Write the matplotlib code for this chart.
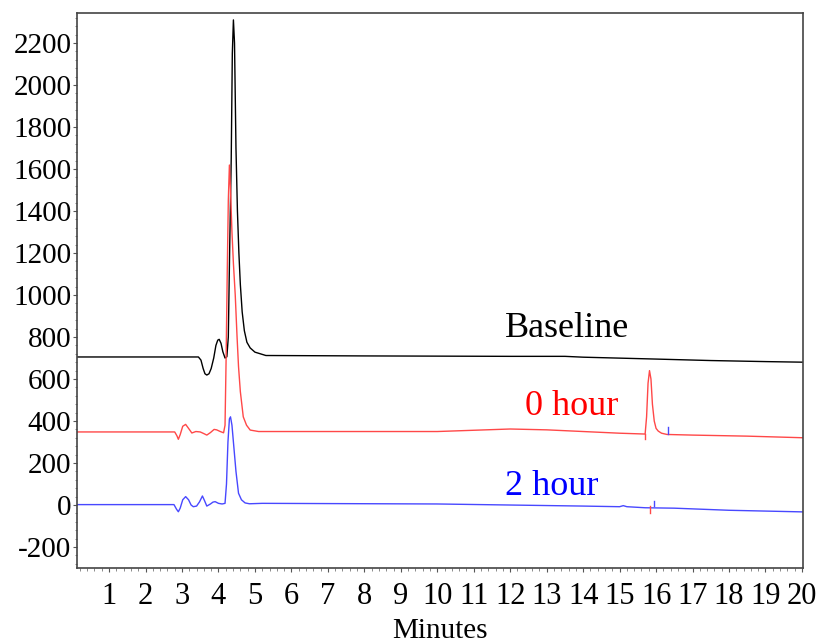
import matplotlib
matplotlib.use("Agg")
import matplotlib.pyplot as plt
from matplotlib.ticker import MultipleLocator

plt.rcParams["font.family"] = ["Liberation Serif", "DejaVu Serif"]
plt.rcParams["axes.unicode_minus"] = False

# Baseline trace (black)
baseline_t = [0.1, 3.45, 3.52, 3.58, 3.63, 3.68, 3.74, 3.80, 3.87, 3.93, 3.98,
              4.02, 4.07, 4.12, 4.18, 4.23, 4.27, 4.31, 4.35, 4.38, 4.41, 4.44,
              4.48, 4.52, 4.56, 4.60, 4.65, 4.71, 4.78, 4.87, 5.0, 5.3, 8.0,
              12.0, 13.5, 14.0, 16.0, 17.5, 19.0, 20.1]
baseline_v = [705, 705, 690, 650, 625, 619, 625, 650, 700, 760, 785,
              789, 770, 730, 700, 706, 800, 1250, 1650, 2150, 2310, 2200,
              1700, 1400, 1200, 1050, 920, 830, 775, 748, 728, 712, 710,
              708, 708, 704, 695, 688, 683, 680]

# 0 hour trace (red)
hour0_t = [0.1, 2.80, 2.86, 2.90, 2.95, 3.02, 3.10, 3.18, 3.27, 3.38, 3.50,
           3.60, 3.68, 3.78, 3.88, 3.95, 4.05, 4.14, 4.18, 4.21, 4.24, 4.27,
           4.30, 4.33, 4.37, 4.41, 4.46, 4.51, 4.55, 4.60, 4.68, 4.77, 4.87,
           5.1, 10.0, 11.0, 12.0, 13.0, 14.0, 15.0, 15.70, 15.74, 15.78,
           15.82, 15.86, 15.90, 15.95, 16.0, 16.06, 16.15, 16.3, 17.0, 18.5, 20.1]
hour0_v = [348, 348, 330, 313, 335, 375, 384, 365, 343, 350, 348,
           340, 333, 345, 360, 358, 350, 344, 380, 700, 1100, 1450,
           1619, 1500, 1300, 1150, 1000, 800, 659, 540, 420, 380, 357,
           350, 350, 356, 362, 358, 350, 342, 338, 420, 580,
           640, 600, 480, 400, 365, 352, 342, 336, 333, 328, 320]

# 2 hour trace (blue)
hour2_t = [0.1, 2.78, 2.85, 2.90, 2.95, 3.02, 3.10, 3.18, 3.25, 3.31, 3.40,
           3.48, 3.56, 3.62, 3.68, 3.78, 3.85, 3.91, 4.00, 4.10, 4.18, 4.22,
           4.26, 4.30, 4.33, 4.37, 4.42, 4.48, 4.55, 4.63, 4.73, 4.85, 5.2,
           10.0, 12.0, 14.0, 15.0, 15.1, 15.2, 15.7, 16.5, 18.0, 20.1]
hour2_v = [2, 2, -20, -32, -15, 25, 40, 25, 0, -8, -5,
           15, 43, 20, -5, 5, 14, 16, 8, 5, 8, 100,
           300, 410, 420, 380, 280, 160, 56, 25, 10, 6, 8,
           5, 0, -5, -8, -3, -8, -13, -15, -25, -33]

# integration event marks: (time, from, to)
red_marks = [(15.69, 336, 313), (15.82, -3, -37)]
blue_marks = [(16.34, 336, 370), (15.93, -6, 19)]

labels = ["Baseline", "0 hour", "2 hour"]
label_pos = [(11.86, 800), (12.41, 429), (11.86, 48)]
label_colors = ["#000000", "#ff0000", "#0000ff"]

fig = plt.figure(figsize=(8.18, 6.43), dpi=100)
ax = fig.add_axes([0.0941, 0.1166, 0.8876, 0.8632])

ax.plot(baseline_t, baseline_v, color="#000000", linewidth=1.0)
ax.plot(hour0_t, hour0_v, color="#ff4848", linewidth=1.0)
ax.plot(hour2_t, hour2_v, color="#4848ff", linewidth=1.0)

for t, a, b in red_marks:
    ax.plot([t, t], [a, b], color="#ff4848", linewidth=1.0)
for t, a, b in blue_marks:
    ax.plot([t, t], [a, b], color="#4848ff", linewidth=1.0)

for text, (x, y), c in zip(labels, label_pos, label_colors):
    ax.text(x, y, text, color=c, fontsize=26, ha="left", va="baseline")

ax.set_xlim(0.12, 20.03)
ax.set_ylim(-300, 2343)
ax.set_xticks(range(1, 21))
ax.set_yticks(range(-200, 2201, 200))
ax.xaxis.set_minor_locator(MultipleLocator(0.2))
ax.yaxis.set_minor_locator(MultipleLocator(40))
ax.tick_params(axis="both", which="major", direction="out", length=3,
               width=0.8, color="#555555")
ax.tick_params(axis="both", which="minor", direction="out", length=1.8,
               width=0.6, color="#777777")
ax.tick_params(axis="y", labelsize=21, pad=1)
ax.tick_params(axis="x", labelsize=22, pad=7)

for side in ["left", "right", "top", "bottom"]:
    ax.spines[side].set_color("#444444")
    ax.spines[side].set_linewidth(1.2)

ax.set_xlabel("Minutes", fontsize=21, labelpad=5)

fig.savefig("out.png", dpi=100)
